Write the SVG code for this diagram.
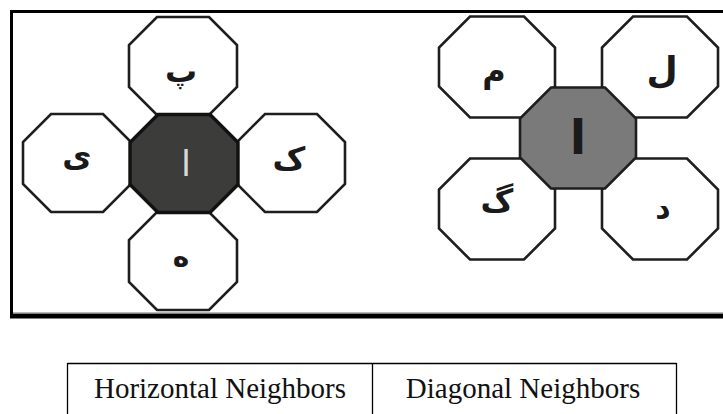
<svg xmlns="http://www.w3.org/2000/svg" xmlns:xlink="http://www.w3.org/1999/xlink" width="723" height="414" viewBox="0 0 723 414">
<style>
.oct{fill:#ffffff;stroke:#1e1e1e;stroke-width:2.6;stroke-linejoin:miter}
.octL{fill:#3c3c3a;stroke:#111;stroke-width:3.4}
.octR{fill:#7a7a7a;stroke:#1e1e1e;stroke-width:2.6}
.ar{font-family:"DejaVu Sans",sans-serif;font-weight:bold;fill:#1a1a1a;text-anchor:middle}
.lbl{font-family:"Liberation Serif","Times New Roman",serif;font-size:29px;fill:#111;text-anchor:middle}
.frame{stroke:#000;fill:none}
</style>
<defs>
<path id="o1" d="M-26,-49 H26 L54,-21 V21 L26,49 H-26 L-54,21 V-21 Z"/>
<path id="o2" d="M-27,-50.5 H27 L58,-19.5 V19.5 L27,50.5 H-27 L-58,19.5 V-19.5 Z"/>
</defs>
<rect width="723" height="414" fill="#fff"/>
<g id="frame">
<line class="frame" x1="10" y1="11.5" x2="723" y2="11.5" stroke-width="3"/>
<line class="frame" x1="11.5" y1="10" x2="11.5" y2="318" stroke-width="3"/>
<line class="frame" x1="10" y1="316" x2="723" y2="316" stroke-width="5"/>
<line x1="13" y1="312.5" x2="723" y2="312.5" stroke="#bbb" stroke-width="1"/>
</g>
<g id="connectors"></g>
<g id="left-cluster">
<g id="n-pe"><use href="#o1" class="oct" transform="translate(183,66)"/><text class="ar" x="181" y="82" font-size="32">پ</text></g>
<g id="n-ye"><use href="#o1" class="oct" transform="translate(77,163)"/><text class="ar" x="77" y="167" font-size="32">ی</text></g>
<g id="n-kaf"><use href="#o1" class="oct" transform="translate(291,163)"/><text class="ar" x="289" y="170" font-size="32">ک</text></g>
<g id="n-he"><use href="#o1" class="oct" transform="translate(183,261)"/><text class="ar" x="181" y="266" font-size="28">ه</text></g>
<g id="n-alef1"><use href="#o1" class="octL" transform="translate(184,163.5)"/><text class="ar" x="186" y="176" font-size="36" style="fill:#d8d8d8;font-weight:normal">ا</text></g>
</g>
<g id="right-cluster">
<g id="n-mim"><use href="#o2" class="oct" transform="translate(497,67)"/><text class="ar" x="494" y="82" font-size="32">م</text></g>
<g id="n-lam"><use href="#o2" class="oct" transform="translate(660,67)"/><text class="ar" x="662" y="82" font-size="36">ل</text></g>
<g id="n-gaf"><use href="#o2" class="oct" transform="translate(497,209)"/><text class="ar" x="497" y="212" font-size="32">گ</text></g>
<g id="n-dal"><use href="#o2" class="oct" transform="translate(660,209)"/><text class="ar" x="663" y="218" font-size="30">د</text></g>
<g id="n-alef2"><use href="#o2" class="octR" transform="translate(578,138)"/><text class="ar" x="578" y="154" font-size="48">ا</text></g>
</g>
<g id="table">
<line x1="67.5" y1="363.5" x2="676.5" y2="363.5" stroke="#000" stroke-width="1.3"/>
<line x1="67.5" y1="363" x2="67.5" y2="414" stroke="#000" stroke-width="1.3"/>
<line x1="372.5" y1="363" x2="372.5" y2="414" stroke="#000" stroke-width="1.3"/>
<line x1="676.5" y1="363" x2="676.5" y2="414" stroke="#000" stroke-width="1.3"/>
<text class="lbl" x="220" y="398">Horizontal Neighbors</text>
<text class="lbl" x="523" y="398">Diagonal Neighbors</text>
</g>
</svg>
